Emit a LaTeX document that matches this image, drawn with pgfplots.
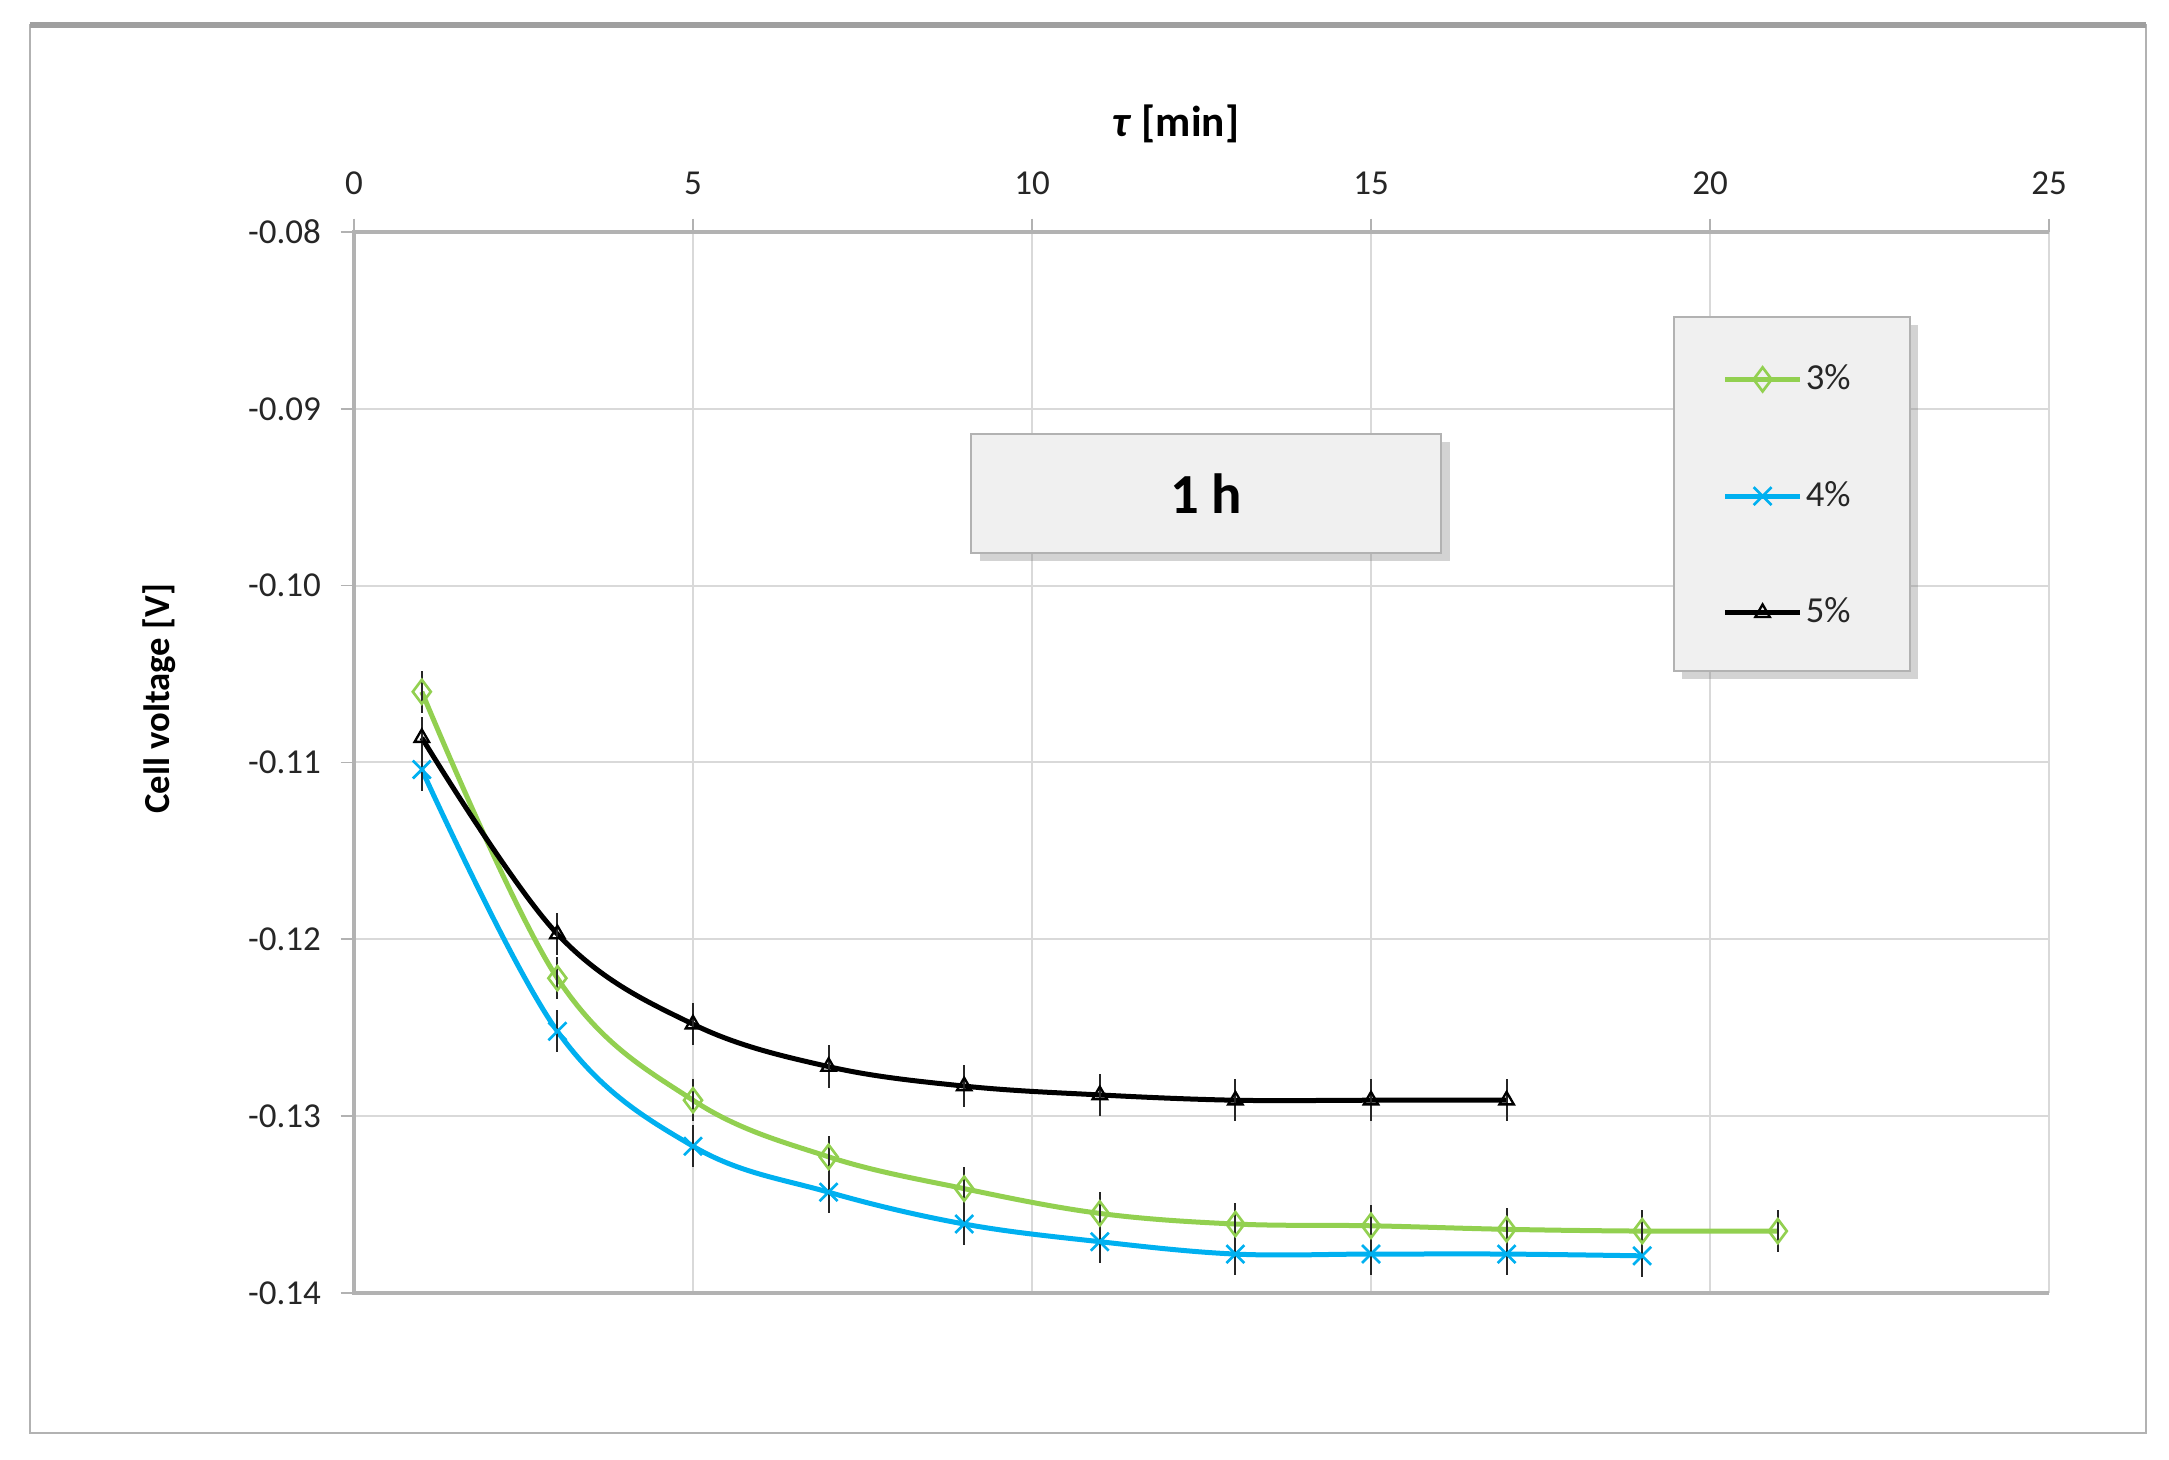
\documentclass[border=0pt]{standalone}
\usepackage{pgfplots}
\pgfplotsset{compat=1.18}
\usepackage{fontspec}
\setmainfont{Carlito}
\usetikzlibrary{shadows}
\definecolor{cgreen}{HTML}{92D050}
\definecolor{cblue}{HTML}{00B0F0}
\definecolor{bgbox}{HTML}{F0F0F0}
\begin{document}
\begin{tikzpicture}
\begin{axis}[
  name=ax, at={(0,0)}, anchor=south west,
  scale only axis, width=508.5pt, height=318.3pt,
  xmin=0, xmax=25, ymin=-0.14, ymax=-0.08,
  clip=false,
  xtick={0,5,10,15,20,25},
  ytick={-0.14,-0.13,-0.12,-0.11,-0.10,-0.09,-0.08},
  xticklabel pos=upper, xtick pos=upper, ytick pos=left,
  tick align=outside, major tick length=4pt,
  tick style={gray!60, line width=0.5pt},
  grid=major, major grid style={gray!30, line width=0.6pt},
  axis line style={draw=none},
  /pgf/number format/assume math mode=true,
  ticklabel style={font=\fontsize{10.5}{12}\selectfont, text=black!85},
  yticklabel style={/pgf/number format/fixed, /pgf/number format/fixed zerofill, /pgf/number format/precision=2, xshift=-2.4pt},
  xticklabel style={yshift=3.5pt},
  scaled y ticks=false,
  title={\textbf{\textit{τ} [min]}},
  title style={at={(axis description cs:0.485,1.083)}, anchor=center, font=\fontsize{13}{15}\selectfont},
  ylabel={\textbf{Cell voltage [V]}},
  ylabel style={at={(axis description cs:-0.115,0.56)}, anchor=center, font=\fontsize{11}{13}\selectfont},
  legend style={at={(axis cs:19.49,-0.08481)}, anchor=north west,
    fill=none, draw=none,
    inner xsep=14pt, inner ysep=12pt, row sep=22pt,
    font=\fontsize{11}{13}\selectfont,
    nodes={inner xsep=1pt, text=black!85}},
  legend cell align=left,
  legend image code/.code={\draw[mark repeat=2,mark phase=2] plot coordinates {(0pt,0pt)(11.2pt,0pt)(22.4pt,0pt)};},
  error bars/error bar style={black!85, line width=0.6pt, solid},
  error bars/error mark=none,
]
\draw[gray!60, line width=1.2pt] (axis cs:25,-0.08) -- (axis cs:0,-0.08) -- (axis cs:0,-0.14) -- (axis cs:25,-0.14);
\addplot[cgreen, line width=1.5pt, smooth, tension=0.6, mark=diamond, mark size=3.6pt, mark options={solid, line width=0.8pt, fill=none},
  error bars/.cd, y dir=both, y explicit] coordinates {
(1,-0.1060) +- (0,0.0012)
(3,-0.1222) +- (0,0.0012)
(5,-0.1291) +- (0,0.0012)
(7,-0.1323) +- (0,0.0012)
(9,-0.1341) +- (0,0.0012)
(11,-0.1355) +- (0,0.0012)
(13,-0.1361) +- (0,0.0012)
(15,-0.1362) +- (0,0.0012)
(17,-0.1364) +- (0,0.0012)
(19,-0.1365) +- (0,0.0012)
(21,-0.1365) +- (0,0.0012)
};
\addlegendentry{3\%}
\addplot[cblue, line width=1.5pt, smooth, tension=0.6, mark=x, mark size=3.8pt, mark options={solid, line width=0.8pt},
  error bars/.cd, y dir=both, y explicit] coordinates {
(1,-0.1104) +- (0,0.0012)
(3,-0.1252) +- (0,0.0012)
(5,-0.1317) +- (0,0.0012)
(7,-0.1343) +- (0,0.0012)
(9,-0.1361) +- (0,0.0012)
(11,-0.1371) +- (0,0.0012)
(13,-0.1378) +- (0,0.0012)
(15,-0.1378) +- (0,0.0012)
(17,-0.1378) +- (0,0.0012)
(19,-0.1379) +- (0,0.0012)
};
\addlegendentry{4\%}
\addplot[black, line width=1.5pt, smooth, tension=0.6, mark=triangle, mark size=2.5pt, mark options={solid, line width=0.7pt, fill=none},
  error bars/.cd, y dir=both, y explicit] coordinates {
(1,-0.1086) +- (0,0.0012)
(3,-0.1197) +- (0,0.0012)
(5,-0.1248) +- (0,0.0012)
(7,-0.1272) +- (0,0.0012)
(9,-0.1283) +- (0,0.0012)
(11,-0.1288) +- (0,0.0012)
(13,-0.1291) +- (0,0.0012)
(15,-0.1291) +- (0,0.0012)
(17,-0.1291) +- (0,0.0012)
};
\addlegendentry{5\%}
\draw[fill=bgbox, draw=gray!60, line width=0.6pt, drop shadow={shadow xshift=2.5pt, shadow yshift=-2.5pt, opacity=0.35}]
  (axis cs:19.47,-0.08481) rectangle (axis cs:22.95,-0.10483);
\node[fill=bgbox, draw=gray!60, line width=0.6pt, minimum width=141pt, minimum height=35.7pt,
  drop shadow={shadow xshift=2.5pt, shadow yshift=-2.5pt, opacity=0.35},
  font=\fontsize{17}{20}\selectfont\bfseries] at (axis cs:12.57,-0.09479) {1 h};
\end{axis}
\draw[gray!60, line width=0.7pt] ([shift={(-97.2pt,-42pt)}]ax.south west) rectangle ([shift={(537.6pt,380.4pt)}]ax.south west);
\draw[gray!75, line width=1.8pt] ([shift={(-97.2pt,380.4pt)}]ax.south west) -- ([shift={(537.6pt,380.4pt)}]ax.south west);
\pgfresetboundingbox
\path[use as bounding box] ([shift={(-106.2pt,-50.1pt)}]ax.south west) rectangle ([shift={(544.5pt,387.9pt)}]ax.south west);
\end{tikzpicture}
\end{document}
